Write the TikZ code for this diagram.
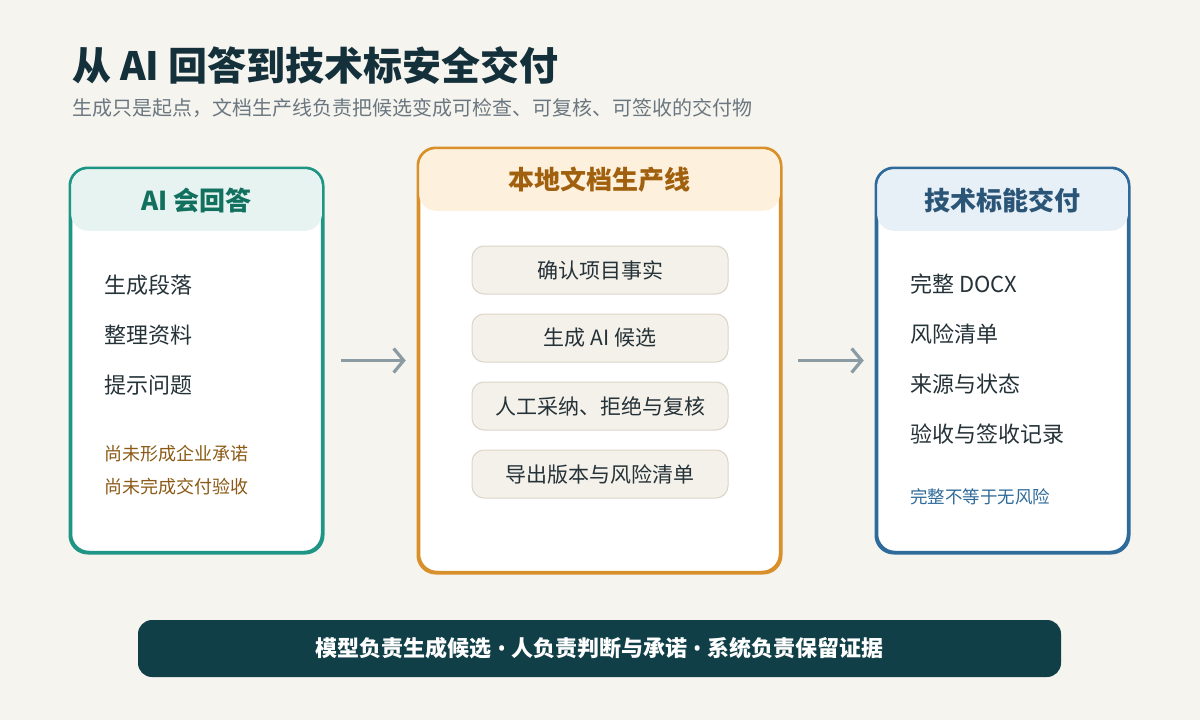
\documentclass[tikz,border=0pt]{standalone}
\usepackage{fontspec}
\setmainfont{Noto Sans CJK SC}
\newfontfamily\latinsans{Noto Sans}
\usetikzlibrary{arrows.meta,calc}
\definecolor{bgc}{HTML}{F6F4EF}
\definecolor{titlec}{HTML}{14303A}
\definecolor{subc}{HTML}{6B7780}
\definecolor{tealc}{HTML}{1F9585}
\definecolor{tealfill}{HTML}{E6F3F0}
\definecolor{tealtext}{HTML}{12705F}
\definecolor{orangec}{HTML}{D8902A}
\definecolor{orangefill}{HTML}{FDF0DC}
\definecolor{orangetext}{HTML}{A0600E}
\definecolor{bluec}{HTML}{2F6B9A}
\definecolor{bluefill}{HTML}{E7EFF7}
\definecolor{bluetext}{HTML}{2B5577}
\definecolor{itemc}{HTML}{253238}
\definecolor{brownc}{HTML}{8B5A16}
\definecolor{pillfill}{HTML}{F4F1EA}
\definecolor{pillline}{HTML}{DCD5C8}
\definecolor{arrowc}{HTML}{8A9BA4}
\definecolor{bannerc}{HTML}{103F48}
\newcommand{\sepdot}{{\latinsans\bfseries\ •\ }}
\tikzset{
  card/.style={draw, line width=2.5pt, rounded corners=18pt, fill=white, inner sep=0pt},
  hdrtext/.style={font=\fontsize{26}{30}\selectfont\bfseries, inner sep=0pt},
  item/.style={anchor=west, font=\fontsize{22}{26}\selectfont, text=itemc, inner sep=0pt},
  note/.style={anchor=west, font=\fontsize{18}{22}\selectfont, inner sep=0pt},
  pill/.style={draw=pillline, line width=1pt, fill=pillfill, rounded corners=12pt, minimum width=256pt, minimum height=48pt, inner sep=0pt, font=\fontsize{21}{25}\selectfont, text=itemc},
  flow/.style={draw=arrowc, line width=3.2pt, -{Straight Barb[length=10pt,width=24pt,line width=3.2pt]}}
}
\begin{document}
\begin{tikzpicture}[x=1pt,y=-1pt]
\fill[bgc] (0,0) rectangle (1200,720);
\useasboundingbox (0,0) rectangle (1200,720);

% title
\node[anchor=base west, inner sep=0pt, font=\fontsize{39}{44}\selectfont\bfseries, text=titlec] (title) at (72,80) {从 AI 回答到技术标安全交付};
\node[anchor=base west, inner sep=0pt, font=\fontsize{20}{24}\selectfont, text=subc] (subtitle) at (72,115) {生成只是起点，文档生产线负责把候选变成可检查、可复核、可签收的交付物};

% cards
\node[card, draw=tealc, minimum width=251pt, minimum height=383pt] (left) at (196.5,360.5) {};
\node[card, draw=orangec, minimum width=361pt, minimum height=423pt] (mid) at (599.5,360.5) {};
\node[card, draw=bluec, minimum width=251pt, minimum height=383pt] (right) at (1002.5,360.5) {};

% headers
\fill[tealfill, rounded corners=17pt] ($(left.north west)+(1.3,1.3)$) rectangle ($(left.north east)+(-1.3,63)$);
\fill[orangefill, rounded corners=17pt] ($(mid.north west)+(1.3,1.3)$) rectangle ($(mid.north east)+(-1.3,63)$);
\fill[bluefill, rounded corners=17pt] ($(right.north west)+(1.3,1.3)$) rectangle ($(right.north east)+(-1.3,63)$);
\draw[tealc, line width=2.5pt, rounded corners=18pt] (left.north west) rectangle (left.south east);
\draw[orangec, line width=2.5pt, rounded corners=18pt] (mid.north west) rectangle (mid.south east);
\draw[bluec, line width=2.5pt, rounded corners=18pt] (right.north west) rectangle (right.south east);

\node[hdrtext, text=tealtext] (lefthead) at ($(left.north)+(0,33)$) {AI 会回答};
\node[hdrtext, text=orangetext] (midhead) at ($(mid.north)+(0,32)$) {本地文档生产线};
\node[hdrtext, text=bluetext] (righthead) at ($(right.north)+(0,33)$) {技术标能交付};

% left items
\node[item] (l1) at (104,285) {生成段落};
\node[item] (l2) at (104,335) {整理资料};
\node[item] (l3) at (104,385) {提示问题};
\node[note, text=brownc] (l4) at (104,454) {尚未形成企业承诺};
\node[note, text=brownc] (l5) at (104,487) {尚未完成交付验收};

% middle pills
\node[pill] (p1) at (600,270) {确认项目事实};
\node[pill] (p2) at (600,338) {生成 AI 候选};
\node[pill] (p3) at (600,406) {人工采纳、拒绝与复核};
\node[pill] (p4) at (600,474) {导出版本与风险清单};

% right items
\node[item] (r1) at (910,284) {完整 DOCX};
\node[item] (r2) at (910,334) {风险清单};
\node[item] (r3) at (910,384) {来源与状态};
\node[item] (r4) at (910,434) {验收与签收记录};
\node[note, text=bluec, font=\fontsize{17.5}{21}\selectfont] (r5) at (910,497) {完整不等于无风险};

% arrows
\draw[flow, shorten <=18pt, shorten >=12pt] (left.east) -- (mid.west);
\draw[flow, shorten <=17pt, shorten >=12pt] (mid.east) -- (right.west);

% banner
\node[fill=bannerc, rounded corners=14pt, minimum width=923pt, minimum height=57pt, inner sep=0pt, text=white, font=\fontsize{22}{26}\selectfont\bfseries] (banner) at (599.5,648.5) {模型负责生成候选\sepdot 人负责判断与承诺\sepdot 系统负责保留证据};
\end{tikzpicture}
\end{document}
